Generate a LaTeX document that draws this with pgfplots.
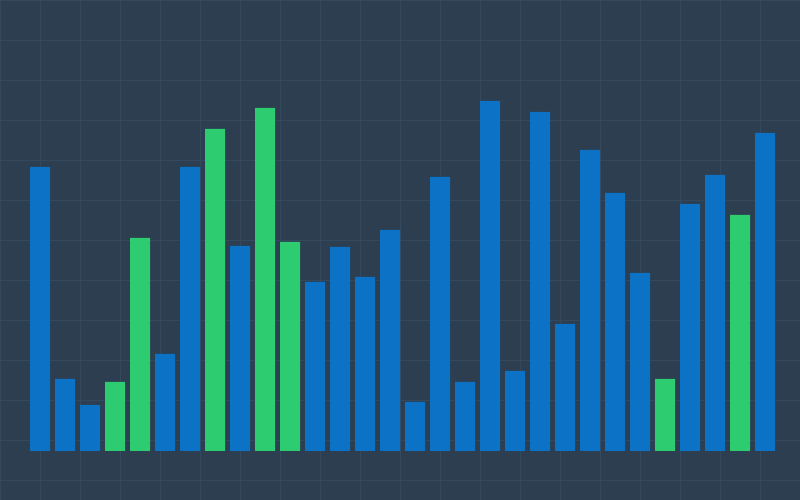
\documentclass[border=0pt]{standalone}
\usepackage{pgfplots}
\pgfplotsset{compat=1.18}
\definecolor{bg}{HTML}{2C3E50}
\definecolor{gridc}{HTML}{35495E}
\definecolor{barblue}{HTML}{0B72C6}
\definecolor{bargreen}{HTML}{2ECC71}
\begin{document}
\begin{tikzpicture}
\begin{axis}[
  x=1pt, y=1pt,
  xmin=0, xmax=800, ymin=-49, ymax=451,
  axis line style={draw=none},
  axis background/.style={fill=bg},
  xtick={0,40,...,800},
  ytick={-29,11,...,451},
  xticklabels={}, yticklabels={},
  major tick length=0pt,
  grid=major,
  grid style={color=gridc, line width=0.8pt},
  ybar, bar width=20pt, bar shift=0pt,
  clip=true,
]
\addplot[fill=barblue, draw=none] coordinates {
(40,284) (65,72) (90,46) (165,97) (190,284) (240,205)
(315,169) (340,204) (365,174) (390,221) (415,49) (440,274)
(465,69) (490,350) (515,80) (540,339) (565,127) (590,301)
(615,258) (640,178) (690,247) (715,276) (765,318)
};
\addplot[fill=bargreen, draw=none] coordinates {
(115,69) (140,213) (215,322) (265,343) (290,209) (665,72) (740,236)
};
\end{axis}
\pgfresetboundingbox
\path (current axis.south west) rectangle (current axis.north east);
\end{tikzpicture}
\end{document}
